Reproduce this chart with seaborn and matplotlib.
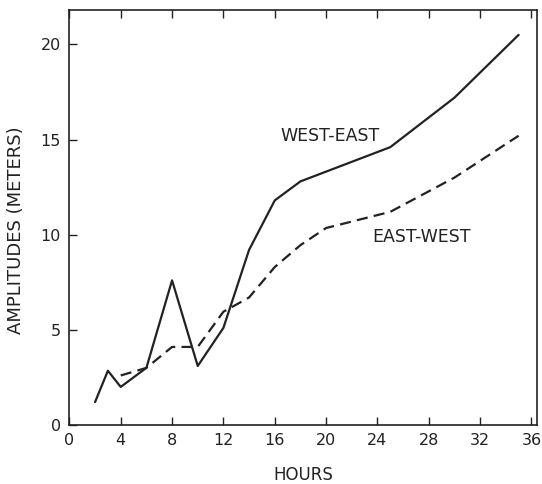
import pandas as pd
import matplotlib
matplotlib.use('Agg')
import matplotlib.pyplot as plt
import seaborn as sns

# values
we_hours = [2, 3, 4, 6, 8, 10, 12, 14, 16, 18, 25, 30, 35]
we_amp = [1.2, 2.85, 2.0, 3.0, 7.6, 3.1, 5.1, 9.2, 11.8, 12.8, 14.6, 17.2, 20.5]
ew_hours = [4, 6, 8, 10, 12, 14, 16, 18, 20, 25, 30, 35]
ew_amp = [2.6, 3.0, 4.1, 4.1, 5.95, 6.7, 8.3, 9.45, 10.35, 11.2, 13.0, 15.2]
x_ticks = [0, 4, 8, 12, 16, 20, 24, 28, 32, 36]
y_ticks = [0, 5, 10, 15, 20]

df = pd.concat([
    pd.DataFrame({"hours": we_hours, "amp": we_amp, "dir": "WEST-EAST"}),
    pd.DataFrame({"hours": ew_hours, "amp": ew_amp, "dir": "EAST-WEST"}),
])

sns.set_style("ticks")
plt.rcParams['font.family'] = ['DejaVu Sans']

fig = plt.figure(figsize=(5.42, 4.84), dpi=100)
ax = fig.add_axes([0.128, 0.122, 0.862, 0.857])

sns.lineplot(data=df, x="hours", y="amp", style="dir", color="#222222",
             linewidth=1.6, dashes={"WEST-EAST": "", "EAST-WEST": (5, 2.8)},
             sort=False, legend=False, ax=ax)

ax.set_xlim(0, 36.4)
ax.set_ylim(0, 21.8)
ax.set_xticks(x_ticks)
ax.set_yticks(y_ticks)
ax.tick_params(direction="in", length=6, width=1, labelsize=11.5, colors="#222222",
               top=True, pad=6)
for s in ax.spines.values():
    s.set_linewidth(1.2)
    s.set_color("#222222")

ax.set_xlabel("HOURS", fontsize=12, labelpad=13, color="#222222")
ax.set_ylabel("AMPLITUDES (METERS)", fontsize=13, labelpad=7, color="#222222")
ax.yaxis.set_label_coords(-0.095, 0.47)

ax.text(20.3, 15.2, "WEST-EAST", fontsize=12.5, ha="center", va="center", color="#222222")
ax.text(27.4, 9.9, "EAST-WEST", fontsize=12.5, ha="center", va="center", color="#222222")

fig.savefig("out.png", dpi=100)
